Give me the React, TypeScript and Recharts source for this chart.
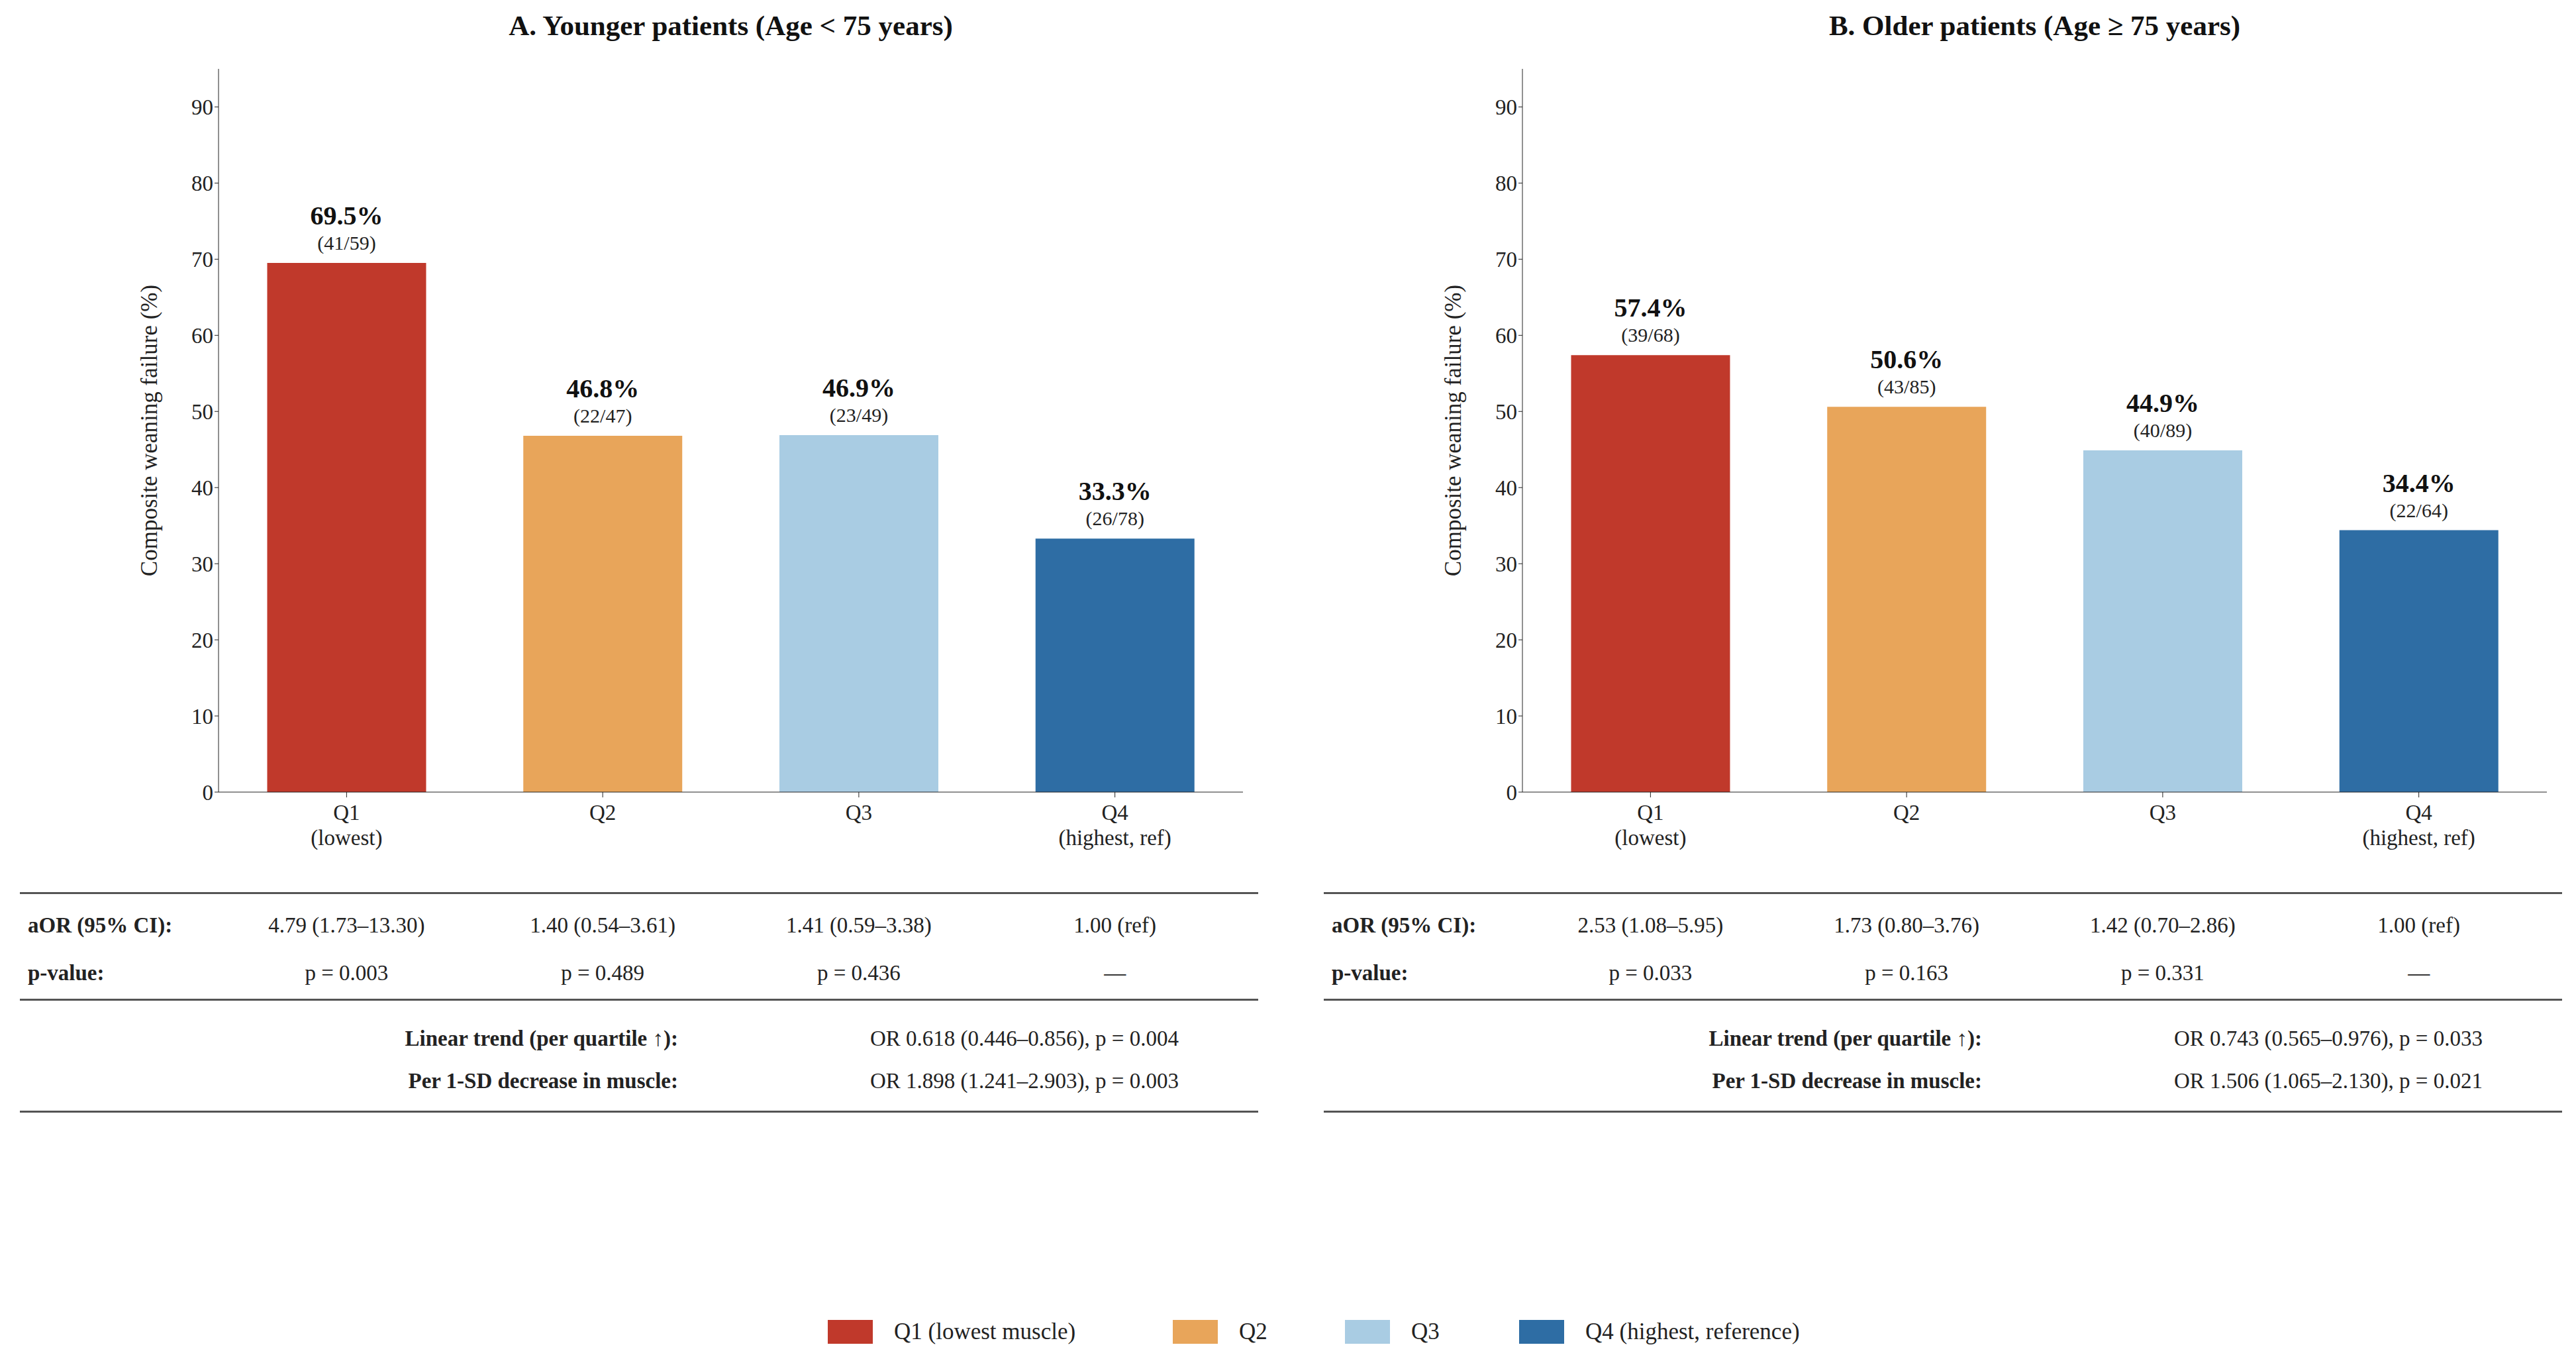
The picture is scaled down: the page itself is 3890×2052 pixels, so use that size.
import React from 'react';
import { BarChart, Bar, XAxis, YAxis, Cell, LabelList } from 'recharts';

const quartiles = ['Q1', 'Q2', 'Q3', 'Q4'];
const subLabels = ['(lowest)', '', '', '(highest, ref)'];
const colors = ['#C0392B', '#E8A55A', '#A9CCE3', '#2E6DA4'];
const legendNames = ['Q1 (lowest muscle)', 'Q2', 'Q3', 'Q4 (highest, reference)'];

const youngRates = [69.5, 46.8, 46.9, 33.3];
const youngCounts = ['41/59', '22/47', '23/49', '26/78'];
const youngAor = ['4.79 (1.73–13.30)', '1.40 (0.54–3.61)', '1.41 (0.59–3.38)', '1.00 (ref)'];
const youngP = ['p = 0.003', 'p = 0.489', 'p = 0.436', '—'];
const youngTrend = 'OR 0.618 (0.446–0.856), p = 0.004';
const youngSd = 'OR 1.898 (1.241–2.903), p = 0.003';

const oldRates = [57.4, 50.6, 44.9, 34.4];
const oldCounts = ['39/68', '43/85', '40/89', '22/64'];
const oldAor = ['2.53 (1.08–5.95)', '1.73 (0.80–3.76)', '1.42 (0.70–2.86)', '1.00 (ref)'];
const oldP = ['p = 0.033', 'p = 0.163', 'p = 0.331', '—'];
const oldTrend = 'OR 0.743 (0.565–0.976), p = 0.033';
const oldSd = 'OR 1.506 (1.065–2.130), p = 0.021';

const yTicks = [0, 10, 20, 30, 40, 50, 60, 70, 80, 90];
const FONT = '"Liberation Serif", "DejaVu Serif", serif';
const PLOT_L = 330;
const PLOT_R = 1877;
const CAT_W = (PLOT_R - PLOT_L) / 4;

function XTick(props: any) {
  const { x, y, payload, index } = props;
  return (
    <g>
      <text x={x} y={y + 32} textAnchor="middle" fontSize={33} fill="#222" fontFamily={FONT}>{payload.value}</text>
      {subLabels[index] && (
        <text x={x} y={y + 70} textAnchor="middle" fontSize={33} fill="#222" fontFamily={FONT}>{subLabels[index]}</text>
      )}
    </g>
  );
}

function Panel({ title, rates, counts, aor, pv, trend, sd, left }: any) {
  const data = quartiles.map((q, i) => ({ q, rate: rates[i], count: counts[i] }));
  const renderLabel = (p: any) => {
    const { x, y, width, index } = p;
    const cx = x + width / 2;
    return (
      <g>
        <text x={cx} y={y - 58} textAnchor="middle" fontSize={40} fontWeight="bold" fill="#111" fontFamily={FONT}>{rates[index].toFixed(1)}%</text>
        <text x={cx} y={y - 20} textAnchor="middle" fontSize={30} fill="#222" fontFamily={FONT}>({counts[index]})</text>
      </g>
    );
  };
  const txt: React.CSSProperties = { position: 'absolute', fontSize: 33, fontFamily: FONT, color: '#222', whiteSpace: 'nowrap' };
  return (
    <div style={{ position: 'absolute', left, top: 0, width: 1900, height: 1700 }}>
      <div style={{ ...txt, left: PLOT_L, width: PLOT_R - PLOT_L, top: 14, textAlign: 'center', fontSize: 43, fontWeight: 'bold', color: '#111' }}>{title}</div>
      <BarChart width={1900} height={1320} data={data} margin={{ top: 104, right: 23, bottom: 24, left: 210 }} barCategoryGap="19%">
        <XAxis dataKey="q" tick={<XTick />} height={100} stroke="#222" tickSize={8} tickLine={{ stroke: '#222' }} />
        <YAxis domain={[0, 95]} ticks={yTicks} width={120} stroke="#222" tick={{ fontSize: 33, fill: '#222', fontFamily: FONT }}
          label={{ value: 'Composite weaning failure (%)', angle: -90, position: 'insideLeft', offset: 0, dx: 15, style: { fontSize: 35, fill: '#222', fontFamily: FONT, textAnchor: 'middle' } }} />
        <Bar dataKey="rate" isAnimationActive={false}>
          {data.map((_, i) => <Cell key={i} fill={colors[i]} />)}
          <LabelList dataKey="rate" content={renderLabel} />
        </Bar>
      </BarChart>
      <div style={{ position: 'absolute', left: 30, width: 1870, top: 1347, borderTop: '3px solid #555' }} />
      <div style={{ ...txt, left: 42, top: 1379, fontWeight: 'bold' }}>aOR (95% CI):</div>
      <div style={{ ...txt, left: 42, top: 1451, fontWeight: 'bold' }}>p-value:</div>
      {quartiles.map((_, i) => (
        <React.Fragment key={i}>
          <div style={{ ...txt, left: PLOT_L + CAT_W * i, width: CAT_W, textAlign: 'center', top: 1379 }}>{aor[i]}</div>
          <div style={{ ...txt, left: PLOT_L + CAT_W * i, width: CAT_W, textAlign: 'center', top: 1451 }}>{pv[i]}</div>
        </React.Fragment>
      ))}
      <div style={{ position: 'absolute', left: 30, width: 1870, top: 1508, borderTop: '3px solid #555' }} />
      <div style={{ ...txt, right: 1900 - 1024, top: 1550, fontWeight: 'bold', textAlign: 'right' }}>Linear trend (per quartile ↑):</div>
      <div style={{ ...txt, right: 1900 - 1024, top: 1614, fontWeight: 'bold', textAlign: 'right' }}>Per 1-SD decrease in muscle:</div>
      <div style={{ ...txt, left: 1314, top: 1550 }}>{trend}</div>
      <div style={{ ...txt, left: 1314, top: 1614 }}>{sd}</div>
      <div style={{ position: 'absolute', left: 30, width: 1870, top: 1677, borderTop: '3px solid #555' }} />
    </div>
  );
}

export default function App() {
  const legendX = [1250, 1771, 2031, 2294];
  return (
    <div style={{ position: 'absolute', left: 0, top: 0, width: 3890, height: 2052, background: '#fff', fontFamily: FONT }}>
      <Panel title="A. Younger patients (Age < 75 years)" rates={youngRates} counts={youngCounts} aor={youngAor} pv={youngP} trend={youngTrend} sd={youngSd} left={0} />
      <Panel title="B. Older patients (Age ≥ 75 years)" rates={oldRates} counts={oldCounts} aor={oldAor} pv={oldP} trend={oldTrend} sd={oldSd} left={1969} />
      {legendNames.map((n, i) => (
        <div key={i} style={{ position: 'absolute', left: legendX[i], top: 1991, display: 'flex', alignItems: 'center', fontSize: 35, color: '#222' }}>
          <div style={{ width: 68, height: 36, background: colors[i], marginRight: 32 }} />
          {n}
        </div>
      ))}
    </div>
  );
}
